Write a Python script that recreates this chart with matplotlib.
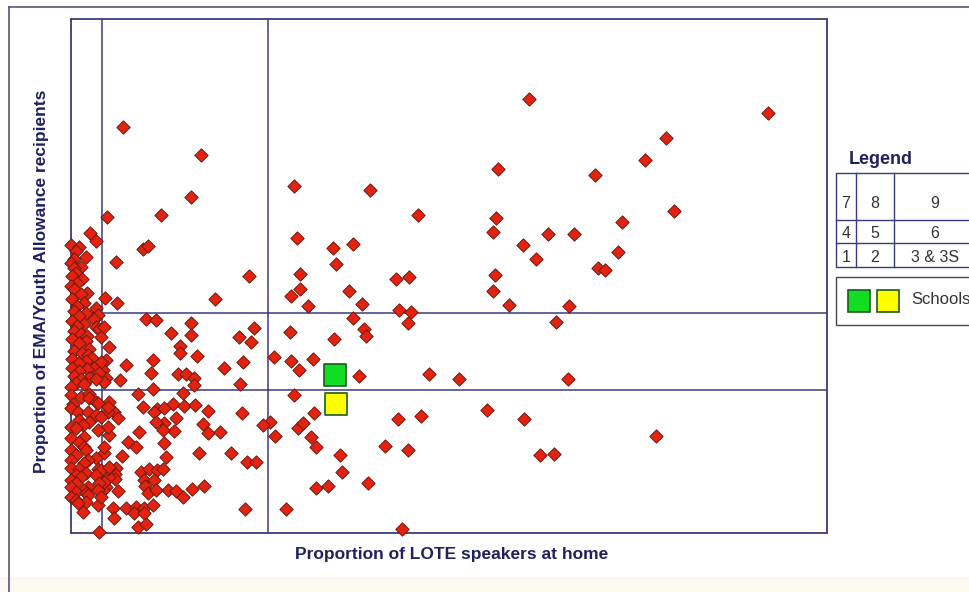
import matplotlib
matplotlib.use("Agg")
import matplotlib.pyplot as plt
from matplotlib.patches import Rectangle
from matplotlib.lines import Line2D

plt.rcParams['font.family'] = ['Liberation Sans', 'DejaVu Sans']

# ---- data (proportions, %) ----
lote_x = [
    45.8, 42.7, 22.3, 29.9, 34.7, 42.5, 42.2, 47.7, 22.6, 26.2, 28.2, 45.2, 46.5, 26.5, 22.9, 32.5,
    33.8, 42.4, 22.9, 22.0, 27.8, 42.2, 23.7, 29.1, 32.8, 34.0, 43.8, 69.7, 59.5, 57.4, 52.4, 60.3,
    55.1, 50.3, 54.7, 52.7, 53.4, 49.8, 28.2, 29.3, 29.5, 33.7, 48.5, 21.9, 26.3, 20.3, 22.0, 24.2,
    22.8, 28.8, 35.8, 38.8, 49.7, 22.3, 24.3, 19.9, 19.2, 22.7, 23.2, 20.4, 24.0, 24.5, 32.7, 35.0,
    41.6, 45.3, 31.4, 33.7, 26.9, 46.9, 48.3, 27.1, 29.7, 24.5, 25.7, 21.5, 33.1, 58.5,
    5.2, 13.0, 12.0, 3.6, 9.0, 1.9, 2.5, 7.2, 7.7, 4.5, 17.8, 14.4, 3.4, 4.6, 7.5, 8.5,
    10.0, 12.0, 12.0, 10.9, 10.9, 12.6, 16.8, 18.0, 18.3, 3.8, 5.5, 8.2, 8.0, 4.9, 10.7, 11.5,
    12.3, 12.3, 15.3, 17.2, 16.9, 3.5, 3.2, 3.5, 8.2, 6.7, 11.2, 10.2, 11.3, 12.4, 13.7, 17.1,
    7.2, 8.6, 8.3, 9.3, 4.3, 3.8, 4.7, 10.5, 9.3, 8.5, 10.3, 9.2, 13.2, 13.7, 14.9, 6.8,
    9.3, 5.7, 6.5, 5.1, 9.5, 12.8, 16.0, 17.6, 18.5, 4.5, 4.4, 4.4, 7.0, 7.8, 8.6, 7.3,
    8.3, 9.2, 7.4, 9.7, 10.5, 11.2, 12.1, 13.3, 4.7, 7.7, 8.5, 17.4, 4.2, 5.5, 6.5, 7.3,
    8.2, 4.3, 6.3, 7.3, 6.7, 7.5, 2.8, 3.3, 3.8, 3.7, 3.7, 3.5, 3.8, 3.7, 3.3, 3.2,
    2.7,
    0.0, 0.8, 0.5, 1.5, 0.3, 0.0, 1.0, 0.3, 0.5, 0.1, 1.1, 0.6, 0.0, 0.3, 1.6, 1.0,
    0.1, 1.3, 0.6, 2.5, 0.3, 1.5, 0.8, 2.7, 2.3, 0.1, 1.3, 0.6, 2.5, 2.8, 0.3, 1.0,
    1.6, 3.0, 0.1, 1.5, 0.8, 1.8, 0.3, 1.1, 1.7, 2.1, 0.1, 1.5, 0.8, 3.0, 0.1, 2.3,
    1.6, 0.8, 2.8, 0.3, 1.8, 1.0, 2.5, 0.5, 1.3, 0.0, 0.0, 1.0, 1.8, 1.8, 2.5, 2.7,
    0.2, 0.0, 0.7, 1.7, 2.5, 3.0, 0.8, 1.8, 1.2, 0.0, 0.5, 2.7, 1.3, 0.0, 0.8, 1.3,
    0.0, 1.5, 0.5, 2.5, 1.7, 0.0, 1.3, 0.0, 0.8, 2.7, 3.0, 1.5, 0.5, 2.5, 1.0, 0.0,
    3.3, 0.5, 2.8, 0.0, 1.7, 1.3, 2.7, 0.5, 1.5, 1.7, 0.0, 3.0, 0.5, 1.5, 0.7, 1.2,
    3.3, 3.8, 3.7, 3.3,
]
ema_y = [
    43.4, 36.4, 34.7, 34.3, 31.8, 31.5, 30.1, 29.9, 29.5, 28.5, 28.9, 28.8, 27.4, 26.9, 25.9, 25.4,
    25.6, 25.8, 24.4, 23.7, 24.2, 24.2, 22.7, 22.9, 22.3, 22.1, 22.8, 42.0, 39.5, 37.3, 35.8, 32.2,
    31.1, 29.9, 28.1, 26.5, 26.3, 22.7, 21.5, 20.4, 19.7, 21.0, 21.1, 20.1, 19.4, 17.6, 17.2, 17.4,
    16.3, 15.7, 15.9, 15.4, 15.4, 13.8, 12.0, 11.1, 10.8, 10.5, 11.0, 9.7, 9.6, 8.6, 11.4, 11.7,
    12.3, 11.4, 8.7, 8.3, 7.8, 7.8, 7.9, 6.1, 5.0, 4.5, 4.7, 2.4, 0.4, 9.7,
    40.6, 37.8, 33.6, 31.6, 31.8, 30.0, 29.2, 28.4, 28.7, 27.1, 25.7, 23.4, 23.5, 23.0, 21.4, 21.3,
    20.0, 21.0, 19.8, 18.7, 18.0, 17.7, 19.6, 19.1, 20.5, 18.6, 16.8, 17.3, 16.0, 15.3, 15.9, 15.9,
    15.5, 14.8, 16.5, 17.1, 14.9, 17.3, 16.3, 15.5, 14.4, 13.9, 14.0, 12.9, 12.7, 12.8, 12.2, 12.0,
    12.6, 12.4, 12.1, 12.5, 12.1, 13.1, 11.5, 11.5, 11.0, 11.1, 10.2, 10.3, 10.9, 10.0, 10.1, 10.1,
    9.0, 9.1, 8.6, 7.7, 7.6, 8.0, 8.0, 7.1, 7.1, 6.5, 5.9, 5.4, 6.1, 6.4, 6.3, 5.3,
    5.3, 6.4, 4.7, 4.3, 4.2, 3.6, 4.4, 4.7, 4.2, 4.0, 4.3, 2.4, 2.5, 2.5, 2.6, 2.5,
    2.8, 1.5, 2.0, 2.0, 0.6, 0.9, 0.1, 15.1, 9.8, 10.6, 12.1, 4.6, 5.6, 6.4, 8.0, 4.3,
    2.8,
    28.8, 28.6, 28.2, 27.6, 27.4, 27.0, 26.6, 26.5, 26.0, 25.7, 25.4, 25.0, 24.7, 24.4, 24.0, 23.9,
    23.4, 23.0, 22.7, 22.5, 22.2, 22.0, 21.7, 21.8, 21.4, 21.2, 20.9, 20.7, 20.6, 20.4, 20.2, 19.9,
    19.7, 19.6, 19.4, 19.2, 19.0, 18.4, 18.2, 18.0, 17.8, 17.5, 17.4, 17.2, 17.0, 17.1, 16.5, 16.5,
    16.4, 16.2, 16.0, 15.7, 15.5, 15.4, 15.4, 15.0, 14.9, 14.6, 13.8, 13.6, 13.9, 13.5, 13.1, 13.0,
    12.9, 12.5, 12.1, 12.1, 11.8, 11.6, 11.3, 11.1, 10.8, 10.6, 10.5, 10.3, 9.6, 9.5, 9.1, 8.6,
    8.3, 8.3, 7.8, 7.5, 7.3, 7.3, 7.0, 6.5, 6.4, 6.4, 6.3, 6.0, 5.8, 5.8, 5.6, 5.3,
    5.1, 5.0, 5.0, 4.6, 4.6, 4.3, 4.3, 4.1, 4.0, 3.8, 3.6, 3.6, 3.3, 3.1, 3.0, 2.1,
    8.6, 6.6, 12.6, 20.6,
]

school_x = [26.4, 26.5]
school_y = [15.8, 12.9]
school_colors = ['#11dd22', '#ffff00']

lote_cuts = [3.15, 19.7]
ema_cuts = [14.3, 22.0]

legend_rows = [["7", "8", "9"], ["4", "5", "6"], ["1", "2", "3 & 3S"]]

# ---- figure ----
W, H = 970, 592
fig = plt.figure(figsize=(W / 100, H / 100), dpi=100)
fig.patch.set_facecolor('white')

def fx(px):
    return px / W

def fy(py):
    return 1 - py / H

navy = '#3a3a7e'
text_navy = '#1e2060'

# bottom beige band & outer frame
fig.add_artist(Rectangle((0, 0), 1, fy(577), transform=fig.transFigure,
                         facecolor='#fcf9f3', edgecolor='none', zorder=0))
fig.add_artist(Line2D([fx(9), fx(9)], [fy(7), 0], transform=fig.transFigure,
                      color='#55557a', lw=1.2))
fig.add_artist(Line2D([fx(9), 1], [fy(7), fy(7)], transform=fig.transFigure,
                      color='#55557a', lw=1.2))

ax_l, ax_r, ax_t, ax_b = 70.7, 827.5, 19, 533.3
ax = fig.add_axes([fx(ax_l), fy(ax_b), fx(ax_r) - fx(ax_l), fy(ax_t) - fy(ax_b)])
ax.set_facecolor('white')
ax.set_xlim(0, 75.7)
ax.set_ylim(0, 51.4)
ax.set_xticks([])
ax.set_yticks([])
for sp in ax.spines.values():
    sp.set_color(navy)
    sp.set_linewidth(1.3)

for xc in lote_cuts:
    ax.axvline(xc, color=navy, lw=1.1, zorder=1)
for yc in ema_cuts:
    ax.axhline(yc, color=navy, lw=1.1, zorder=1)

ax.scatter(lote_x, ema_y, marker='D', s=46, facecolor='#e3220f',
           edgecolor='#6e1a10', linewidth=0.7, zorder=3, clip_on=False)
ax.scatter(school_x, school_y, marker='s', s=250, c=school_colors,
           edgecolor='#1d5a1d', linewidth=1.2, zorder=4)

ax.set_xlabel('Proportion of LOTE speakers at home', fontsize=12.5, fontweight='bold',
              color=text_navy)
ax.xaxis.set_label_coords((452 - ax_l) / (ax_r - ax_l), (ax_b - 547) / (ax_b - ax_t))
ax.set_ylabel('Proportion of EMA/Youth Allowance recipients', fontsize=12.5,
              fontweight='bold', color=text_navy)
ax.yaxis.set_label_coords((49 - ax_l) / (ax_r - ax_l), (ax_b - 281.5) / (ax_b - ax_t))

# ---- legend panel (drawn in figure pixels) ----
fig.text(fx(849), fy(160), 'Legend', fontsize=13, fontweight='bold',
         color=text_navy, ha='left', va='center')
tbl_l, tbl_r, tbl_t, tbl_b = 835.7, 980, 173.3, 266.7
fig.add_artist(Rectangle((fx(tbl_l), fy(tbl_b)), fx(tbl_r) - fx(tbl_l), fy(tbl_t) - fy(tbl_b),
                         transform=fig.transFigure, facecolor='white', edgecolor=navy, lw=1.0))
for yy in [220, 243.3]:
    fig.add_artist(Line2D([fx(tbl_l), fx(tbl_r)], [fy(yy), fy(yy)],
                          transform=fig.transFigure, color=navy, lw=1.0))
for xx in [855.7, 894]:
    fig.add_artist(Line2D([fx(xx), fx(xx)], [fy(tbl_t), fy(tbl_b)],
                          transform=fig.transFigure, color=navy, lw=1.0))
col_centers = [845.7, 874.8, 935]
row_text_y = [203, 234, 257]
for row, ty in zip(legend_rows, row_text_y):
    for lab, cx in zip(row, col_centers):
        fig.text(fx(cx), fy(ty), lab, fontsize=11.5, color='#333333',
                 ha='center', va='center')

fig.add_artist(Rectangle((fx(835.7), fy(325)), fx(985) - fx(835.7), fy(276.7) - fy(325),
                         transform=fig.transFigure, facecolor='white', edgecolor='#444444', lw=1.0))
for x0, col in zip([848.3, 877.5], school_colors):
    fig.add_artist(Rectangle((fx(x0), fy(311.7)), fx(x0 + 22) - fx(x0), fy(290) - fy(311.7),
                             transform=fig.transFigure, facecolor=col, edgecolor='#1d5a1d', lw=1.2))
fig.text(fx(911), fy(300), 'Schools', fontsize=12, color='#333333', ha='left', va='center')

fig.savefig('out.png', dpi=100)
